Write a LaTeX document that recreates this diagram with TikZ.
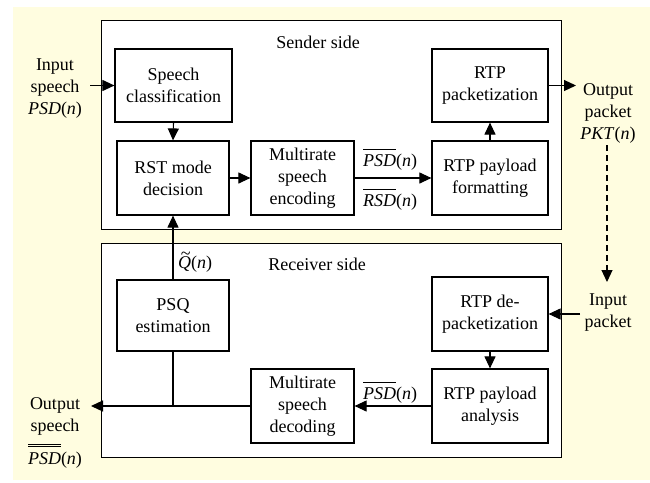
\documentclass[tikz,border=0pt]{standalone}
\usepackage{fontspec}
\setmainfont{Liberation Serif}
\usetikzlibrary{arrows.meta}
\tikzset{
  blk/.style={draw, line width=1.2pt, fill=white, align=center, inner sep=0pt,
    font=\fontsize{18}{22}\selectfont},
  grp/.style={draw, line width=1pt, fill=white},
  lbl/.style={align=center, inner sep=0pt, font=\fontsize{18}{22}\selectfont},
  flow/.style={line width=1.1pt, -{Triangle[length=12pt,width=11pt]}},
}
\newcommand{\iv}[1]{\textit{#1}}
% barred signal names: one or two bars, kept well above the letters
\newcommand{\sbar}[1]{$\overline{\mbox{\rule{0pt}{15pt}\iv{#1}}}$}
\newcommand{\dbar}[1]{$\overline{\overline{\mbox{\rule{0pt}{16pt}\iv{#1}}}}$}
% Q with a tilde set above it
\newcommand{\qtilde}{\iv{\ooalign{Q\cr\hidewidth\kern0.1em\raisebox{0.5em}{\~{}}\hidewidth\cr}}}
\begin{document}
\begin{tikzpicture}[x=1pt,y=-1pt]
\useasboundingbox (0,0) rectangle (650,482);
\fill[white] (0,0) rectangle (650,482);
\fill[yellow!12] (13,7) rectangle (650,480);

% the two sides of the link
\draw[grp] (101,20) rectangle (561,229);
\draw[grp] (101,243) rectangle (561,457);
\node[lbl] (sendlbl) at (318,42) {Sender side};
\node[lbl] (recvlbl) at (317,264) {Receiver side};

% sender blocks
\node[blk, minimum width=117pt, minimum height=73pt] (sc)  at (173.5,85.5) {Speech\\classification};
\node[blk, minimum width=112pt, minimum height=74pt] (rst) at (173,178) {RST mode\\decision};
\node[blk, minimum width=103pt, minimum height=74pt] (enc) at (302.5,178) {Multirate\\speech\\encoding};
\node[blk, minimum width=116pt, minimum height=74pt] (fmt) at (490,178) {RTP payload\\formatting};
\node[blk, minimum width=116pt, minimum height=73pt] (pkt) at (490,85.5) {RTP\\packetization};

% receiver blocks
\node[blk, minimum width=112pt, minimum height=71pt] (psq) at (173,315.5) {PSQ\\estimation};
\node[blk, minimum width=116pt, minimum height=74pt] (dep) at (490,314) {RTP de-\\packetization};
\node[blk, minimum width=116pt, minimum height=74pt] (ana) at (490,406) {RTP payload\\analysis};
\node[blk, minimum width=103pt, minimum height=74pt] (dec) at (302.5,406) {Multirate\\speech\\decoding};

% outside labels
\node[lbl] (inspeech) at (55,89) {Input\\speech\\\iv{PSD}(\iv{n})};
\node[lbl] (outpkt) at (608,113) {Output\\packet\\\iv{PKT}(\iv{n})};
\node[lbl] (inpkt) at (608,313) {Input\\packet};
\node[lbl] (outspeech) at (55,416.5) {Output\\speech};
\node[lbl, anchor=base] (outpsd) at (55,464) {\dbar{PSD}(\iv{n})};

% signal labels
\node[lbl, anchor=base] (psdtx) at (390,166) {\sbar{PSD}(\iv{n})};
\node[lbl, anchor=base] (rsdtx) at (390,206) {\sbar{RSD}(\iv{n})};
\node[lbl, anchor=base] (psdrx) at (390,399) {\sbar{PSD}(\iv{n})};
\node[lbl, anchor=base west] (qlbl) at (178,268) {\qtilde(\iv{n})};

% free ends
\coordinate (inS)  at (90,85.5);
\coordinate (outP) at (576,85.5);
\coordinate (dashA) at (607,145);
\coordinate (dashB) at (607,282);
\coordinate (inP)  at (580,314);
\coordinate (outS) at (91,406);
\coordinate (join) at (173,406);

% sender flow
\draw[flow] (inS) -- (sc.west);
\draw[flow] (sc.south) -- (rst.north);
\draw[flow] (rst.east) -- (enc.west);
\draw[flow] (enc.east) -- (fmt.west);
\draw[flow] (fmt.north) -- (pkt.south);
\draw[flow] (pkt.east) -- (outP);

% channel
\draw[flow, dash pattern=on 6pt off 4pt] (dashA) -- (dashB);

% receiver flow
\draw[flow] (inP) -- (dep.east);
\draw[flow] (dep.south) -- (ana.north);
\draw[flow] (ana.west) -- (dec.east);
\draw[flow] (dec.west) -- (outS);
\draw[line width=1.1pt] (psq.south) -- (join);
\draw[flow] (psq.north) -- (rst.south);
\end{tikzpicture}
\end{document}
